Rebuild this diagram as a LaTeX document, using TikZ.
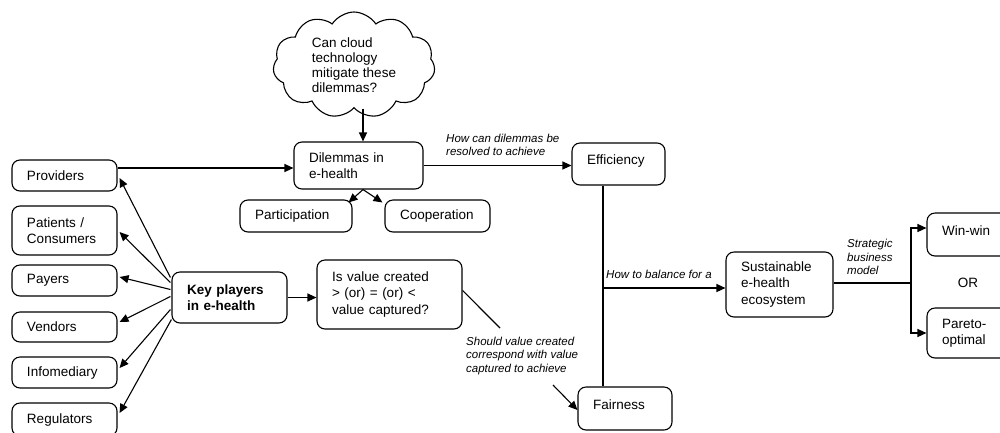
\documentclass[tikz,border=0pt]{standalone}
\usepackage{fontspec}
\setmainfont{Liberation Sans}
\usetikzlibrary{arrows.meta,calc,shapes.symbols}

\tikzset{
  box/.style={draw, rounded corners=8pt, line width=1.1pt, inner xsep=15pt, inner ysep=0pt,
    align=left, font=\fontsize{13.5}{16.5}\selectfont},
  lbl/.style={font=\fontsize{11.5}{13.3}\selectfont\itshape, align=left, inner sep=0pt},
  link/.style={line width=1.1pt},
  arr/.style={link, -{Triangle[length=9pt,width=8pt]}},
}

\begin{document}
\begin{tikzpicture}[x=1pt,y=-1pt]
\useasboundingbox (0,0) rectangle (1000,432);
\clip (0,0) rectangle (1000,432);

% players column
\node[box, text width=75pt, minimum height=31pt] (prov) at (64.5,175.5) {Providers};
\node[box, text width=75pt, minimum height=49pt] (pat) at (64.5,230.5) {Patients /\\Consumers};
\node[box, text width=75pt, minimum height=31pt] (pay) at (64.5,280.5) {Payers};
\node[box, text width=75pt, minimum height=30pt] (ven) at (64.5,327) {Vendors};
\node[box, text width=75pt, minimum height=31pt] (info) at (64.5,372.5) {Infomediary};
\node[box, text width=75pt, minimum height=33pt] (reg) at (64.5,419.5) {Regulators};

\node[box, text width=85pt, minimum height=51pt, font=\fontsize{13.5}{16.5}\selectfont\bfseries] (key) at (229.5,297.5) {Key players\\in e-health};

% dilemmas
\node[cloud, draw, line width=1.1pt, cloud puffs=11, cloud puff arc=115, aspect=1.5,
  minimum width=162pt, minimum height=106pt, inner sep=0pt, align=left,
  font=\fontsize{13.5}{15}\selectfont] (cloud) at (354,65)
  {Can cloud\\technology\\mitigate these\\dilemmas?};
\node[box, text width=99pt, minimum height=47pt] (dil) at (358.5,165.5) {Dilemmas in\\e-health};
\node[box, text width=82pt, minimum height=32pt] (part) at (296,216) {Participation};
\node[box, text width=75pt, minimum height=32pt] (coop) at (437.5,216) {Cooperation};

% outcomes
\node[box, text width=63pt, minimum height=42pt, text depth=8pt] (eff) at (618.5,164) {Efficiency};
\node[box, text width=115pt, minimum height=69pt] (isv) at (389.5,294.5) {Is value created\\> (or) = (or) <\\value captured?};
\node[box, text width=64pt, minimum height=43pt, text depth=8pt] (fair) at (625,408.5) {Fairness};
\node[box, text width=77pt, minimum height=65pt] (sus) at (779.5,284.5) {Sustainable\\e-health\\ecosystem};
\node[box, text width=60pt, minimum height=43pt, text depth=8pt] (win) at (972,234.5) {Win-win};
\node[box, text width=60pt, minimum height=50pt] (par) at (972,333) {Pareto-\\optimal};
\node[font=\fontsize{13.5}{16.5}\selectfont, inner sep=0pt] (or) at (968,283) {OR};

% edge labels
\node[lbl, anchor=west] (l1) at (446,145) {How can dilemmas be\\resolved to achieve};
\node[lbl, anchor=west] (l2) at (606,274) {How to balance for a};
\node[lbl, anchor=west] (l3) at (466,356) {Should value created\\correspond with value\\captured to achieve};
\node[lbl, anchor=west] (l4) at (847,257) {Strategic\\business\\model};

% key players to each group
\draw[arr] ($(key.west)+(-1,-20)$) -- ($(prov.east)+(2,2.5)$);
\draw[arr] ($(key.west)+(-1,-15)$) -- ($(pat.east)+(2,1.5)$);
\draw[arr] ($(key.west)+(-1,-8)$) -- ($(pay.east)+(2,-3.5)$);
\draw[arr] ($(key.west)+(-1,-1)$) -- ($(ven.east)+(2,-5)$);
\draw[arr] ($(key.west)+(-1,12)$) -- ($(info.east)+(2,-4.5)$);
\draw[arr] ($(key.west)+(0,22)$) -- ($(reg.east)+(2,-6.5)$);

\draw[arr] ($(prov.east)+(0,-7.5)$) -- ($(dil.west)+(0,2.5)$);
\draw[arr] (cloud.south -| dil.north) ++(4.5,0) coordinate (c1) -- (c1 |- dil.north);
\draw[arr] ($(dil.south)+(4.5,0)$) -- ($(part.north east)+(-4,3)$);
\draw[arr] ($(dil.south)+(4.5,0)$) -- ($(coop.north west)+(-2,3)$);
\draw[arr] (dil.east) -- (dil.east -| eff.west);
\draw[arr] (key.east) -- (key.east -| isv.west);

% efficiency and fairness balance
\coordinate (e1) at ($(eff.south)+(-15.5,0)$);
\coordinate (br) at ($(sus.west)+(0,3.5)$);
\draw[link] (e1) -- (e1 |- fair.north);
\draw[arr] (e1 |- br) -- (br);

% value created vs captured
\coordinate (s1) at (500,328);
\coordinate (s2) at (553,385);
\draw[link] ($(isv.east)+(0,-4)$) -- (s1);
\draw[arr] (s2) -- ($(fair.west)+(0,1.5)$);

% business model branches
\coordinate (j) at (911,283);
\draw[link] (sus.east |- j) -- (j);
\draw[arr] (j) |- ($(win.west)+(0,-6.5)$);
\draw[arr] (j) |- (par.west);
\end{tikzpicture}
\end{document}
